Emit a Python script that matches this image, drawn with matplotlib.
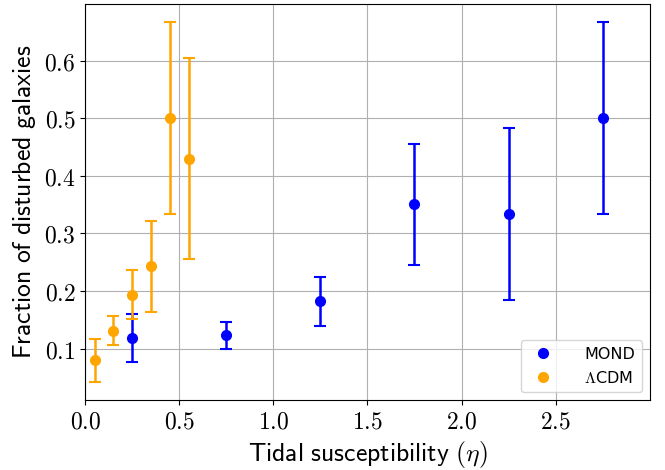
import matplotlib
matplotlib.use('Agg')
import matplotlib.pyplot as plt
from matplotlib.ticker import FuncFormatter

plt.rcParams['mathtext.fontset'] = 'cm'

# MOND bins
mond_x = [0.25, 0.75, 1.25, 1.75, 2.25, 2.75]
mond_y = [0.119, 0.124, 0.182, 0.351, 0.334, 0.500]
mond_lo = [0.077, 0.100, 0.140, 0.246, 0.185, 0.334]
mond_hi = [0.161, 0.147, 0.224, 0.455, 0.484, 0.667]

# LCDM bins
lcdm_x = [0.05, 0.15, 0.25, 0.35, 0.45, 0.55]
lcdm_y = [0.081, 0.131, 0.194, 0.243, 0.500, 0.429]
lcdm_lo = [0.042, 0.107, 0.152, 0.164, 0.334, 0.255]
lcdm_hi = [0.117, 0.156, 0.236, 0.321, 0.667, 0.605]

fig = plt.figure(figsize=(6.65, 4.7), dpi=100)
ax = fig.add_axes([0.128, 0.149, 0.849, 0.842])

for x, y, lo, hi, c, lab in [(mond_x, mond_y, mond_lo, mond_hi, 'blue', 'MOND'),
                             (lcdm_x, lcdm_y, lcdm_lo, lcdm_hi, 'orange', r'$\Lambda$CDM')]:
    yerr = [[v - l for v, l in zip(y, lo)], [h - v for v, h in zip(y, hi)]]
    ax.errorbar(x, y, yerr=yerr, fmt='none', ecolor=c, elinewidth=1.8, capsize=4, capthick=1.5)
    ax.plot(x, y, 'o', color=c, markersize=7, label=lab)

ax.set_xlim(0, 3.0)
ax.set_ylim(0.011, 0.698)
ax.set_xticks([0.0, 0.5, 1.0, 1.5, 2.0, 2.5])
ax.set_yticks([0.1, 0.2, 0.3, 0.4, 0.5, 0.6])
ax.xaxis.set_major_formatter(FuncFormatter(lambda v, p: f'${v:.1f}$'))
ax.yaxis.set_major_formatter(FuncFormatter(lambda v, p: f'${v:.1f}$'))
ax.tick_params(labelsize=17)
ax.grid(True)
ax.set_axisbelow(True)

ax.set_xlabel(r'$\mathsf{Tidal\ susceptibility}\ (\eta)$', fontsize=18.5)
ax.set_ylabel(r'$\mathsf{Fraction\ of\ disturbed\ galaxies}$', fontsize=18.5)
ax.legend(loc='lower right', fontsize=11.5, handletextpad=1.6)

fig.savefig('out.png', dpi=100)
